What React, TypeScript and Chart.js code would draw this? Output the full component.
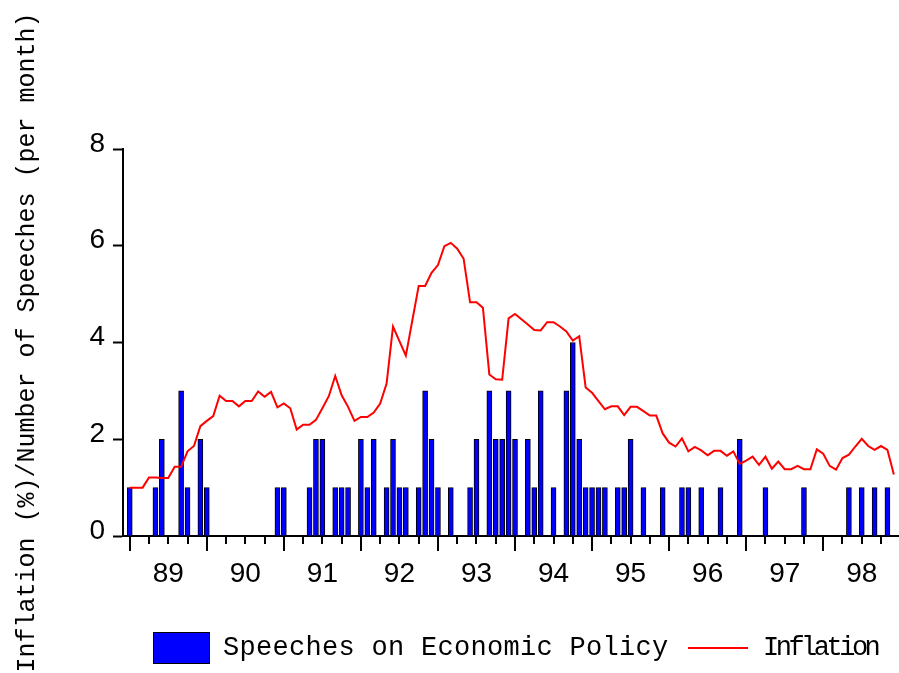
import { useEffect, useRef } from "react";
import { Chart, registerables } from "chart.js";

Chart.register(...registerables);

// Year tick labels (one per calendar year, 1989–1998)
const yearLabels = ["89", "90", "91", "92", "93", "94", "95", "96", "97", "98"];

// Monthly number of speeches on economic policy, Jan 1989 – Dec 1998
const speeches = [
  1, 0, 0, 0, 1, 2, 0, 0, 3, 1, 0, 2,
  1, 0, 0, 0, 0, 0, 0, 0, 0, 0, 0, 1,
  1, 0, 0, 0, 1, 2, 2, 0, 1, 1, 1, 0,
  2, 1, 2, 0, 1, 2, 1, 1, 0, 1, 3, 2,
  1, 0, 1, 0, 0, 1, 2, 0, 3, 2, 2, 3,
  2, 0, 2, 1, 3, 0, 1, 0, 3, 4, 2, 1,
  1, 1, 1, 0, 1, 1, 2, 0, 1, 0, 0, 1,
  0, 0, 1, 1, 0, 1, 0, 0, 1, 0, 0, 2,
  0, 0, 0, 1, 0, 0, 0, 0, 0, 1, 0, 0,
  0, 0, 0, 0, 1, 0, 1, 0, 1, 0, 1, 0,
];

// Monthly inflation (% per month), Jan 1989 – Dec 1998
const inflation = [
  1.0, 1.0, 1.0, 1.21, 1.21, 1.2, 1.2, 1.43, 1.43, 1.75, 1.86, 2.27,
  2.38, 2.48, 2.9, 2.79, 2.79, 2.68, 2.79, 2.79, 2.99, 2.88, 2.98, 2.66,
  2.74, 2.64, 2.2, 2.3, 2.3, 2.4, 2.64, 2.89, 3.31, 2.91, 2.67, 2.38,
  2.46, 2.46, 2.55, 2.74, 3.15, 4.33, 4.03, 3.73, 4.45, 5.17, 5.17, 5.44,
  5.6, 5.99, 6.06, 5.94, 5.73, 4.83, 4.83, 4.72, 3.34, 3.24, 3.23, 4.5,
  4.59, 4.48, 4.37, 4.26, 4.25, 4.42, 4.42, 4.33, 4.23, 4.04, 4.13, 3.07,
  2.96, 2.79, 2.62, 2.68, 2.68, 2.5, 2.67, 2.67, 2.58, 2.49, 2.49, 2.12,
  1.93, 1.85, 2.02, 1.75, 1.84, 1.77, 1.67, 1.76, 1.76, 1.66, 1.75, 1.49,
  1.56, 1.64, 1.47, 1.64, 1.39, 1.54, 1.38, 1.38, 1.45, 1.38, 1.38, 1.79,
  1.7, 1.45, 1.37, 1.61, 1.68, 1.85, 2.01, 1.86, 1.78, 1.86, 1.78, 1.27,
];

const yTicks = [0, 2, 4, 6, 8];
const seriesNames = ["Speeches on Economic Policy", "Inflation"];
const yTitle = "Inflation (%)/Number of Speeches (per month)";

const sansFont = "'Liberation Sans', Arial, sans-serif";
const monoFont = "'Liberation Mono', 'DejaVu Sans Mono', monospace";

export default function App() {
  const ref = useRef<HTMLCanvasElement>(null);

  useEffect(() => {
    document.body.style.margin = "0";
    const canvas = ref.current;
    if (!canvas) return;

    const quarterTicks = {
      id: "quarterTicks",
      afterDraw(chart: any) {
        const xs = chart.scales.x;
        const c = chart.ctx;
        const y0 = chart.chartArea.bottom;
        c.save();
        c.strokeStyle = "#000";
        c.lineWidth = 2;
        for (let v = 0; v < speeches.length; v += 3) {
          const px = Math.round(xs.getPixelForValue(v));
          const len = v % 12 === 0 ? 15 : 8;
          c.beginPath();
          c.moveTo(px, y0);
          c.lineTo(px, y0 + len);
          c.stroke();
        }
        c.restore();
      },
    };

    const chart = new Chart(canvas, {
      type: "bar",
      data: {
        datasets: [
          {
            type: "line",
            label: seriesNames[1],
            data: inflation.map((v, i) => ({ x: i, y: v })),
            borderColor: "#ff0000",
            borderWidth: 2,
            pointRadius: 0,
            tension: 0,
            order: 0,
          } as any,
          {
            type: "bar",
            label: seriesNames[0],
            data: speeches
              .map((v, i) => ({ x: i, y: v }))
              .filter((d) => d.y > 0),
            backgroundColor: "#0000ff",
            borderColor: "#000000",
            borderWidth: 1,
            barThickness: 5,
            order: 1,
          } as any,
        ],
      },
      options: {
        animation: false,
        responsive: false,
        devicePixelRatio: 1,
        layout: { padding: { top: 149, left: 0, right: 0, bottom: 0 } },
        plugins: {
          legend: { display: false },
          tooltip: { enabled: false },
        },
        scales: {
          x: {
            type: "linear",
            min: -1.05,
            max: 119.8,
            offset: false,
            grid: { display: false },
            border: { display: true, color: "#000", width: 2 },
            afterBuildTicks: (s: any) => {
              s.ticks = yearLabels.map((_, k) => ({ value: 6 + 12 * k }));
            },
            afterFit: (s: any) => {
              s.height = 137;
            },
            ticks: {
              autoSkip: false,
              maxRotation: 0,
              padding: 13,
              color: "#000",
              font: { family: sansFont, size: 28 },
              callback: (v: any) => {
                const k = (Number(v) - 6) / 12;
                return yearLabels[k] ?? "";
              },
            },
          },
          y: {
            min: 0,
            max: 8,
            afterBuildTicks: (s: any) => {
              s.ticks = yTicks.map((v) => ({ value: v }));
            },
            afterFit: (s: any) => {
              s.width = 123;
            },
            grid: {
              drawOnChartArea: false,
              drawTicks: true,
              tickLength: 10,
              tickWidth: 2,
              tickColor: "#000",
            },
            border: { display: true, color: "#000", width: 2 },
            ticks: {
              padding: 8,
              labelOffset: -5,
              color: "#000",
              font: { family: sansFont, size: 28 },
            },
            title: {
              display: true,
              text: yTitle,
              color: "#000",
              font: { family: monoFont, size: 25 },
              padding: { top: 12, bottom: 0 },
            },
          },
        },
      } as any,
      plugins: [quarterTicks],
    });

    return () => chart.destroy();
  }, []);

  const legendText: React.CSSProperties = {
    position: "absolute",
    top: 632,
    height: 32,
    lineHeight: "32px",
    fontFamily: monoFont,
    fontSize: 27,
    color: "#000",
    whiteSpace: "nowrap",
  };

  return (
    <div style={{ position: "relative", width: 899, height: 673, overflow: "hidden" }}>
      <canvas ref={ref} width={899} height={673} style={{ display: "block" }} />
      <div
        style={{
          position: "absolute",
          left: 153,
          top: 632,
          width: 57,
          height: 32,
          background: "#0000ff",
          border: "1.5px solid #000",
          boxSizing: "border-box",
        }}
      />
      <span style={{ ...legendText, left: 223, letterSpacing: "0.3px" }}>{seriesNames[0]}</span>
      <div
        style={{
          position: "absolute",
          left: 688,
          top: 647,
          width: 60,
          height: 2,
          background: "#ff0000",
        }}
      />
      <span style={{ ...legendText, left: 763, letterSpacing: "-3.5px" }}>{seriesNames[1]}</span>
    </div>
  );
}
